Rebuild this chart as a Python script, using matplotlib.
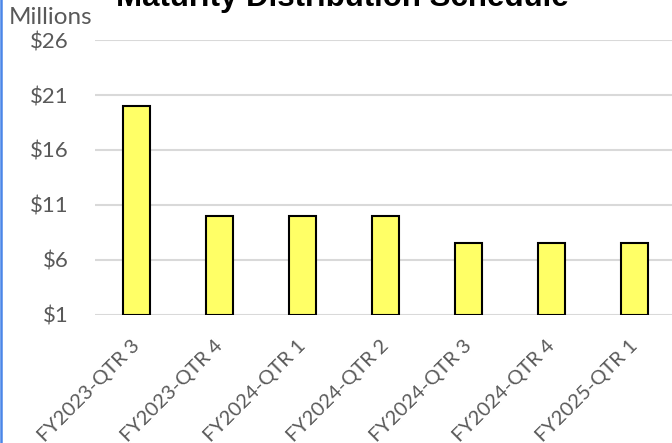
import matplotlib
matplotlib.use("Agg")
import matplotlib.pyplot as plt
from matplotlib.ticker import FuncFormatter
from matplotlib.lines import Line2D
from matplotlib.transforms import ScaledTranslation

categories = ["FY2023-QTR 3", "FY2023-QTR 4", "FY2024-QTR 1", "FY2024-QTR 2",
              "FY2024-QTR 3", "FY2024-QTR 4", "FY2025-QTR 1"]
values = [20.0, 10.0, 10.0, 10.0, 7.5, 7.5, 7.5]
yticks = [1, 6, 11, 16, 21, 26]

W, H = 672, 443
fig = plt.figure(figsize=(W / 100, H / 100), dpi=100)
left = 95 / W
right = 676 / W
bottom = 1 - 314.5 / H
top = 1 - 40.3 / H
ax = fig.add_axes([left, bottom, right - left, top - bottom])

x = list(range(len(categories)))
ax.bar(x, [v - 1 for v in values], bottom=1, width=0.32, color="#ffff66",
       edgecolor="black", linewidth=1.5, zorder=3)

ax.set_xlim(-0.5, len(categories) - 0.5)
ax.set_ylim(1, 26)
ax.set_yticks(yticks)
ax.yaxis.set_major_formatter(FuncFormatter(lambda v, p: f"${int(v)}"))
ax.grid(axis="y", color="#d9d9d9", linewidth=1.5, zorder=0)
ax.set_axisbelow(True)
for s in ax.spines.values():
    s.set_visible(False)
ax.tick_params(axis="both", length=0, colors="#595959", labelsize=16)
ax.tick_params(axis="y", pad=19)
for lbl in ax.get_yticklabels():
    lbl.set_fontfamily("Lato")
ax.set_xticks(x)
ax.set_xticklabels(categories, rotation=45, ha="right", rotation_mode="anchor",
                   fontfamily="Lato", fontsize=14.5, color="#595959")
ax.tick_params(axis="x", pad=16.5)
off = ScaledTranslation(-6 / 100, 0, fig.dpi_scale_trans)
for lbl in ax.get_xticklabels():
    lbl.set_transform(lbl.get_transform() + off)

fig.text(51 / W, 1 - 17 / H, "Millions", ha="center", va="center",
         fontsize=17.5, color="#595959", fontfamily="Lato")
fig.text(342 / W, 1 - 6 / H, "Maturity Distribution Schedule", ha="center",
         va="baseline", fontsize=22.5, fontweight="bold", color="black",
         fontfamily="Liberation Sans")

fig.add_artist(Line2D([1 / W, 1 / W], [0, 1], color="#4a86e8", linewidth=1.8,
                      transform=fig.transFigure))

fig.savefig("out.png", dpi=100)
